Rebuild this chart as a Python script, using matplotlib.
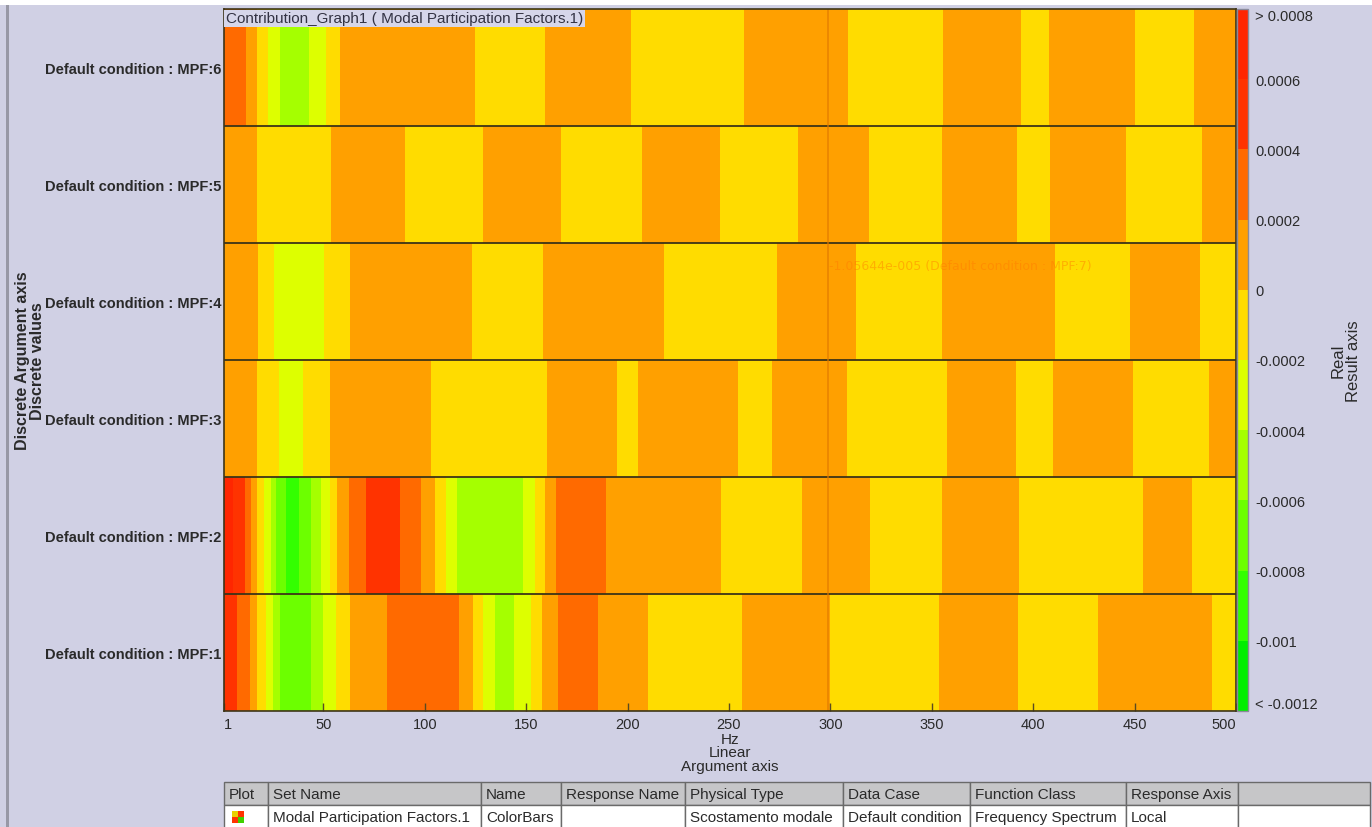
import numpy as np
import matplotlib
matplotlib.use("Agg")
import matplotlib.pyplot as plt
from matplotlib.colors import ListedColormap, BoundaryNorm
from matplotlib.cm import ScalarMappable
from matplotlib.patches import Rectangle

plt.rcParams["font.family"] = ["Liberation Sans", "DejaVu Sans"]

# ---- result axis classes -------------------------------------------------
levels = [-0.0012, -0.0010, -0.0008, -0.0006, -0.0004, -0.0002,
          0.0, 0.0002, 0.0004, 0.0006, 0.0008]
level_colors = ["#00EE00", "#33FF00", "#6CFF00", "#A5FF00", "#DDFF00",
                "#FFDC00", "#FFA000", "#FF6A00", "#FF3300", "#FF2600"]
level_labels = ["< -0.0012", "-0.001", "-0.0008", "-0.0006", "-0.0004",
                "-0.0002", "0", "0.0002", "0.0004", "0.0006", "> 0.0008"]

# ---- discrete argument axis ----------------------------------------------
row_labels = ["Default condition : MPF:1", "Default condition : MPF:2",
              "Default condition : MPF:3", "Default condition : MPF:4",
              "Default condition : MPF:5", "Default condition : MPF:6"]

x_ticks = [1, 50, 100, 150, 200, 250, 300, 350, 400, 450, 500]

# ---- band edges (Hz) and modal participation values per row --------------
mpf1_edges = [1, 7.6, 13.7, 17.4, 21.6, 25.3, 28.6, 44, 49.9, 56.1, 63, 81.5,
              116.9, 123.9, 128.9, 134.5, 144, 152.4, 158, 165.8, 185.6,
              210.2, 256.6, 299.8, 353.7, 392.7, 431.8, 488, 500]
mpf1_values = [0.0005, 0.0003, 0.0001, -0.0001, -0.0003, -0.0005, -0.0007,
               -0.0005, -0.0003, -0.0001, 0.0001, 0.0003, 0.0001, -0.0001,
               -0.0003, -0.0005, -0.0003, -0.0001, 0.0001, 0.0003, 0.0001,
               -0.0001, 0.0001, -0.0001, 0.0001, -0.0001, 0.0001, -0.0001]

mpf2_edges = [1, 5.6, 11.4, 14.5, 17.4, 20.7, 24, 26.8, 31.7, 38, 44, 48.7,
              53.3, 56.9, 62.6, 70.9, 87.6, 98.3, 104.9, 110.3, 116, 148.6,
              154.4, 159.3, 164.6, 189.2, 245.9, 285.9, 319.7, 355, 393.2,
              454, 478.3, 500]
mpf2_values = [0.0007, 0.0005, 0.0003, 0.0001, -0.0001, -0.0003, -0.0005,
               -0.0007, -0.0009, -0.0007, -0.0005, -0.0003, -0.0001, 0.0001,
               0.0003, 0.0005, 0.0003, 0.0001, -0.0001, -0.0003, -0.0005,
               -0.0003, -0.0001, 0.0001, 0.0003, 0.0001, -0.0001, 0.0001,
               -0.0001, 0.0001, -0.0001, 0.0001, -0.0001]

mpf3_edges = [1, 17.4, 28.1, 40.1, 53.1, 103.2, 160.1, 194.6, 205.3, 254.6,
              271.4, 308, 357.4, 391.5, 409.9, 449.1, 486.8, 500]
mpf3_values = [0.0001, -0.0001, -0.0003, -0.0001, 0.0001, -0.0001, 0.0001,
               -0.0001, 0.0001, -0.0001, 0.0001, -0.0001, 0.0001, -0.0001,
               0.0001, -0.0001, 0.0001]

mpf4_edges = [1, 17.9, 25.7, 50.3, 63, 123.4, 158.4, 218.1, 273.8, 312.6,
              354.9, 410.8, 447.7, 482.3, 500]
mpf4_values = [0.0001, -0.0001, -0.0003, -0.0001, 0.0001, -0.0001, 0.0001,
               -0.0001, 0.0001, -0.0001, 0.0001, -0.0001, 0.0001, -0.0001]

mpf5_edges = [1, 17.4, 53.9, 90.3, 128.9, 167, 207.3, 245.6, 284.2, 319.2,
              355, 392, 408.3, 445.8, 483.1, 500]
mpf5_values = [0.0001, -0.0001, 0.0001, -0.0001, 0.0001, -0.0001, 0.0001,
               -0.0001, 0.0001, -0.0001, 0.0001, -0.0001, 0.0001, -0.0001,
               0.0001]

mpf6_edges = [1, 11.7, 17.4, 22.8, 28.6, 42.9, 51.1, 58.1, 124.6, 159.3,
              201.5, 257.4, 308.8, 355.7, 394, 407.7, 450.2, 479.5, 500]
mpf6_values = [0.0003, 0.0001, -0.0001, -0.0003, -0.0005, -0.0003, -0.0001,
               0.0001, -0.0001, 0.0001, -0.0001, 0.0001, -0.0001, 0.0001,
               -0.0001, 0.0001, -0.0001, 0.0001]

row_edges = [mpf1_edges, mpf2_edges, mpf3_edges, mpf4_edges, mpf5_edges, mpf6_edges]
row_values = [mpf1_values, mpf2_values, mpf3_values, mpf4_values, mpf5_values, mpf6_values]

# cursor readout
cursor_hz = 298.7
cursor_text = "-1.05644e-005 (Default condition : MPF:7)"

# ---- table below the graph -----------------------------------------------
table_header = ["Plot", "Set Name", "Name", "Response Name", "Physical Type",
                "Data Case", "Function Class", "Response Axis", ""]
table_row = ["", "Modal Participation Factors.1", "ColorBars", "",
             "Scostamento modale", "Default condition", "Frequency Spectrum",
             "Local", ""]

BG = "#D0D0E4"
TXT = "#2a2a2a"
W, H = 1372, 828

fig = plt.figure(figsize=(W / 100, H / 100), dpi=100, facecolor=BG)

cmap = ListedColormap(level_colors)
norm = BoundaryNorm(levels, cmap.N)

# frame / table layer in pixel coordinates
bg = fig.add_axes([0, 0, 1, 1], zorder=-1)
bg.set_xlim(0, W)
bg.set_ylim(H, 0)
bg.axis("off")
bg.add_patch(Rectangle((0, 0), W, 6, fc="white", ec="none"))
bg.add_patch(Rectangle((6, 6), 3, H - 6, fc="#9898A6", ec="none"))

col_edges = [224, 268, 481, 561, 685, 843, 970, 1126, 1238, 1370]
head_top, head_bot, row_bot = 783, 806, 832
for i in range(len(col_edges) - 1):
    x0, x1 = col_edges[i], col_edges[i + 1]
    bg.add_patch(Rectangle((x0, head_top), x1 - x0, head_bot - head_top,
                           fc="#C6C6C8", ec="#6a6a6a", lw=1.0))
    bg.add_patch(Rectangle((x0, head_bot), x1 - x0, row_bot - head_bot,
                           fc="white", ec="#6a6a6a", lw=1.0))
    bg.text(x0 + 5, (head_top + head_bot) / 2 + 1, table_header[i],
            fontsize=11, color=TXT, va="center", ha="left")
    bg.text(x0 + 5, (head_bot + 828) / 2 + 1, table_row[i],
            fontsize=11, color=TXT, va="center", ha="left")
# plot icon
icon_cols = [["#E8D000", "#FF3300"], ["#FF3300", "#40D000"]]
for r in range(2):
    for c in range(2):
        bg.add_patch(Rectangle((232 + 6 * c, 812 + 6 * r), 6, 6,
                               fc=icon_cols[r][c], ec="none"))

# ---- main colour-bar graph -----------------------------------------------
ax = fig.add_axes([224 / W, 1 - 712 / H, (1236 - 224) / W, (712 - 10) / H])
for i, (edges, vals) in enumerate(zip(row_edges, row_values)):
    ax.pcolormesh(edges, [i - 0.5, i + 0.5], np.array(vals)[None, :],
                  cmap=cmap, norm=norm, shading="flat", edgecolors="none",
                  antialiased=False)
for i in range(len(row_labels) - 1):
    ax.axhline(i + 0.5, color="#3d3418", lw=1.3)

ax.axvline(cursor_hz, color="#E07800", lw=1.2, alpha=0.7)
ax.text(cursor_hz + 0.5, 3.31, cursor_text, fontsize=9, color="#FF7A00",
        alpha=0.45, va="center", ha="left", family="DejaVu Sans")

ax.set_xlim(1, 500)
ax.set_ylim(-0.5, len(row_labels) - 0.5)
ax.set_yticks(range(len(row_labels)))
ax.set_yticklabels(row_labels, fontsize=10.5, fontweight="bold", color=TXT)
ax.tick_params(axis="y", length=0, pad=2)
ax.set_xticks(x_ticks)
ax.set_xticklabels([str(t) for t in x_ticks], fontsize=10.5, color=TXT)
ax.tick_params(axis="x", direction="in", length=6, width=1, color="#5a4a20",
               pad=4)
xl = ax.get_xticklabels()
xl[0].set_ha("left")
xl[-1].set_ha("right")
ax.set_xlabel("Hz\nLinear\nArgument axis", fontsize=11, color=TXT,
              linespacing=0.95, labelpad=1)
for s in ax.spines.values():
    s.set_color("#3d3418")
    s.set_linewidth(1.2)

ax.text(0.002, 0.997, "Contribution_Graph1 ( Modal Participation Factors.1)",
        transform=ax.transAxes, fontsize=11, color="#333344", va="top",
        ha="left", bbox=dict(boxstyle="square,pad=0.1", fc="#D6D6EA",
                             ec="none", lw=0))

fig.text(30 / W, 1 - 361 / H, "Discrete Argument axis\nDiscrete values",
         rotation=90, ha="center", va="center", fontsize=11.5,
         fontweight="bold", color=TXT, multialignment="center",
         linespacing=1.0)

# ---- colour legend -------------------------------------------------------
cax = fig.add_axes([1237 / W, 1 - 712 / H, 11 / W, (712 - 10) / H])
cb = fig.colorbar(ScalarMappable(norm=norm, cmap=cmap), cax=cax,
                  ticks=levels, spacing="uniform")
cb.outline.set_edgecolor("#8a8a9a")
cb.outline.set_linewidth(1.0)
cax.set_yticklabels(level_labels, fontsize=10.5, color=TXT)
cax.tick_params(length=0, pad=5)
yl = cax.get_yticklabels()
yl[0].set_va("bottom")
yl[-1].set_va("top")

fig.text(1346 / W, 1 - 361 / H, "Real\nResult axis", rotation=90,
         ha="center", va="center", fontsize=12, color=TXT,
         multialignment="center", linespacing=1.0)

fig.savefig("out.png", dpi=100, facecolor=BG)
